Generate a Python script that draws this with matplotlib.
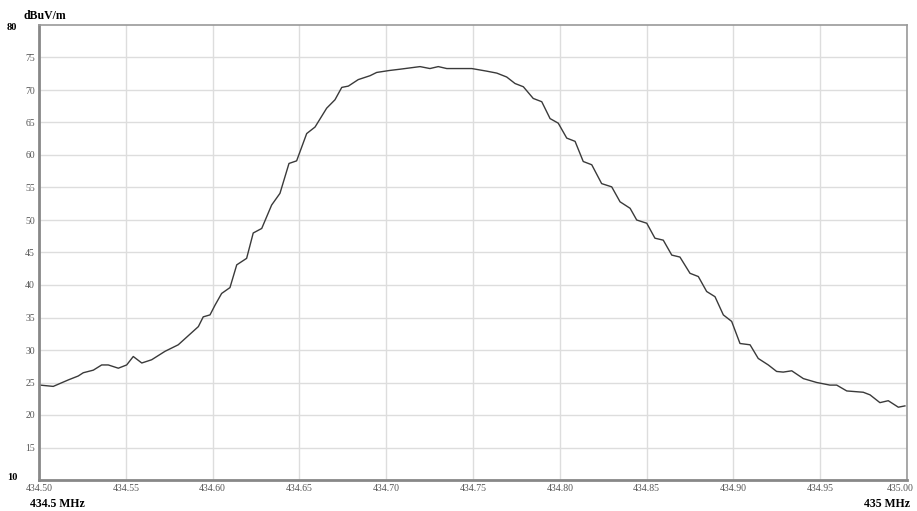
import numpy as np
import matplotlib
matplotlib.use('Agg')
import matplotlib.pyplot as plt
from matplotlib.transforms import ScaledTranslation

# trace (MHz, dBuV/m)
freq = [434.5006, 434.5082, 434.5169, 434.5226, 434.5255, 434.5313, 434.5361,
        434.5399, 434.5457, 434.5505, 434.5543, 434.5592, 434.5649, 434.5726,
        434.5802, 434.5860, 434.5918, 434.5946, 434.5985, 434.6014, 434.6052,
        434.6100, 434.6139, 434.6196, 434.6234, 434.6283, 434.6340, 434.6388,
        434.6440, 434.6484, 434.6542, 434.6590, 434.6657, 434.6705, 434.6744,
        434.6782, 434.6839, 434.6907, 434.6945, 434.7018, 434.7080, 434.7195,
        434.7252, 434.7300, 434.7349, 434.7493, 434.7579, 434.7637, 434.7694,
        434.7742, 434.7790, 434.7847, 434.7896, 434.7944, 434.7991, 434.8040,
        434.8088, 434.8135, 434.8184, 434.8241, 434.8299, 434.8347, 434.8405,
        434.8443, 434.8501, 434.8548, 434.8596, 434.8645, 434.8692, 434.8750,
        434.8798, 434.8846, 434.8894, 434.8942, 434.8990, 434.9038, 434.9096,
        434.9143, 434.9201, 434.9249, 434.9287, 434.9336, 434.9403, 434.9480,
        434.9556, 434.9595, 434.9653, 434.9748, 434.9787, 434.9844, 434.9892,
        434.9950, 434.9988]
level = [24.6, 24.4, 25.4, 26.0, 26.5, 26.9, 27.7, 27.7, 27.2, 27.7,
         29.0, 28.0, 28.5, 29.8, 30.8, 32.2, 33.6, 35.1, 35.4, 36.9,
         38.7, 39.6, 43.1, 44.1, 48.0, 48.7, 52.3, 54.1, 58.7, 59.1,
         63.3, 64.3, 67.2, 68.5, 70.4, 70.6, 71.6, 72.2, 72.7, 73.0,
         73.2, 73.6, 73.3, 73.6, 73.3, 73.3, 72.9, 72.6, 72.0, 71.0,
         70.5, 68.7, 68.2, 65.6, 64.9, 62.6, 62.1, 59.0, 58.5, 55.6,
         55.1, 52.8, 51.8, 50.0, 49.5, 47.2, 46.9, 44.6, 44.3, 41.8,
         41.3, 39.0, 38.2, 35.4, 34.4, 31.0, 30.8, 28.7, 27.7, 26.7,
         26.6, 26.8, 25.6, 25.0, 24.6, 24.6, 23.7, 23.5, 23.1, 21.9,
         22.2, 21.2, 21.4]
x_ticks = [434.50, 434.55, 434.60, 434.65, 434.70, 434.75, 434.80, 434.85,
           434.90, 434.95, 435.00]
y_ticks = [15, 20, 25, 30, 35, 40, 45, 50, 55, 60, 65, 70, 75]

plt.rcParams['font.family'] = ['Liberation Serif', 'DejaVu Serif']

fig = plt.figure(figsize=(9.17, 5.11), dpi=100)
ax = fig.add_axes([39 / 917, 31 / 511, 868 / 917, 455 / 511])

ax.plot(freq, level, color='#3a3a3a', lw=1.0)

ax.set_xlim(434.5, 435.0)
ax.set_ylim(10, 80)
ax.set_xticks(x_ticks)
ax.set_yticks(y_ticks)
ax.set_xticklabels([f'{t:.2f}' for t in x_ticks], fontsize=7, color='#555555')
ax.set_yticklabels([str(t) for t in y_ticks], fontsize=7, color='#555555')
ax.tick_params(length=0, pad=3)
# last label would run off the right edge - pull it in a bit
last = ax.get_xticklabels()[-1]
last.set_transform(last.get_transform() + ScaledTranslation(-0.07, 0, fig.dpi_scale_trans))
ax.grid(color='#dddddd', lw=1.0)
ax.set_axisbelow(True)
for side in ['top', 'right']:
    ax.spines[side].set_color('#999999')
    ax.spines[side].set_linewidth(1.2)
for side in ['left', 'bottom']:
    ax.spines[side].set_color('#888888')
    ax.spines[side].set_linewidth(2.0)

fig.text(7 / 917, 1 - 28 / 511, '80', fontsize=7.5, fontweight='bold', va='center')
fig.text(7 / 917, 1 - 478 / 511, '10', fontsize=7.5, fontweight='bold', va='center')
fig.text(23 / 917, 1 - 16 / 511, 'dBuV/m', fontsize=8.5, fontweight='bold', va='center')
fig.text(30 / 917, 1 - 504 / 511, '434.5 MHz', fontsize=8.5, fontweight='bold', va='center')
fig.text(910 / 917, 1 - 504 / 511, '435 MHz', fontsize=8.5, fontweight='bold',
         va='center', ha='right')

fig.savefig('out.png', dpi=100)
